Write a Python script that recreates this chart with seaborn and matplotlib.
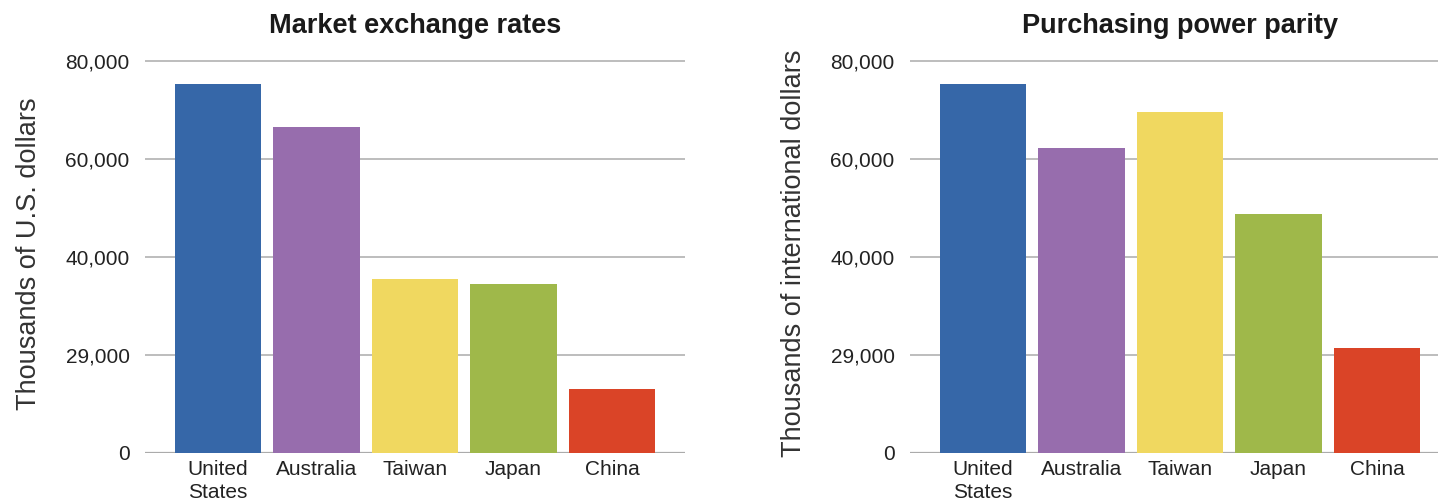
import matplotlib
matplotlib.use("Agg")
import matplotlib.pyplot as plt
import seaborn as sns
import pandas as pd

countries = ["United States", "Australia", "Taiwan", "Japan", "China"]
tick_names = ["United\nStates", "Australia", "Taiwan", "Japan", "China"]
market_rates = [75300, 66500, 35500, 34500, 13100]
ppp_rates = [75300, 62200, 69600, 48800, 21400]
ytick_values = [0, 20000, 40000, 60000, 80000]
ytick_labels = ["0", "29,000", "40,000", "60,000", "80,000"]
colors = ["#3667A8", "#976DAD", "#F0D860", "#9FB84A", "#DA4427"]
titles = ["Market exchange rates", "Purchasing power parity"]
ylabels = ["Thousands of U.S. dollars", "Thousands of international dollars"]

sns.set_theme(style="white")
plt.rcParams["font.family"] = ["Liberation Sans", "DejaVu Sans"]

W, H = 1438, 504
fig = plt.figure(figsize=(W / 100, H / 100), dpi=100)

ymax = 81500
px_per_unit = 392 / 80000
ax_h = ymax * px_per_unit / H
ax_w = 540 / W
lefts = [145 / W, 910 / W]
bottom = (H - 453) / H

for i, vals in enumerate([market_rates, ppp_rates]):
    ax = fig.add_axes([lefts[i], bottom, ax_w, ax_h])
    df = pd.DataFrame({"country": countries, "value": vals})
    sns.barplot(data=df, x="country", y="value", hue="country",
                palette=colors, legend=False, width=0.88, ax=ax,
                saturation=1, zorder=3, linewidth=0)
    ax.set_xlim(-0.74, 4.74)
    ax.set_ylim(0, ymax)
    ax.set_yticks(ytick_values)
    ax.set_yticklabels(ytick_labels)
    ax.set_xticks(range(len(countries)))
    ax.set_xticklabels(tick_names, linespacing=1.3)
    for y in ytick_values:
        ax.axhline(y, color="#ABABAB", lw=1.1 if y else 1.6, zorder=1)
    for s in ax.spines.values():
        s.set_visible(False)
    ax.tick_params(axis="y", length=0, pad=11, labelsize=15, labelcolor="#222222")
    ax.tick_params(axis="x", length=0, pad=5, labelsize=15, labelcolor="#222222")
    ax.set_xlabel("")
    ax.set_ylabel(ylabels[i], fontsize=19.5, color="#333333")
    ax.yaxis.set_label_coords(-0.19, 0.5)
    ax.set_title(titles[i], fontsize=19.5, fontweight="bold", color="#1a1a1a", pad=15)

fig.savefig("out.png", dpi=100)
